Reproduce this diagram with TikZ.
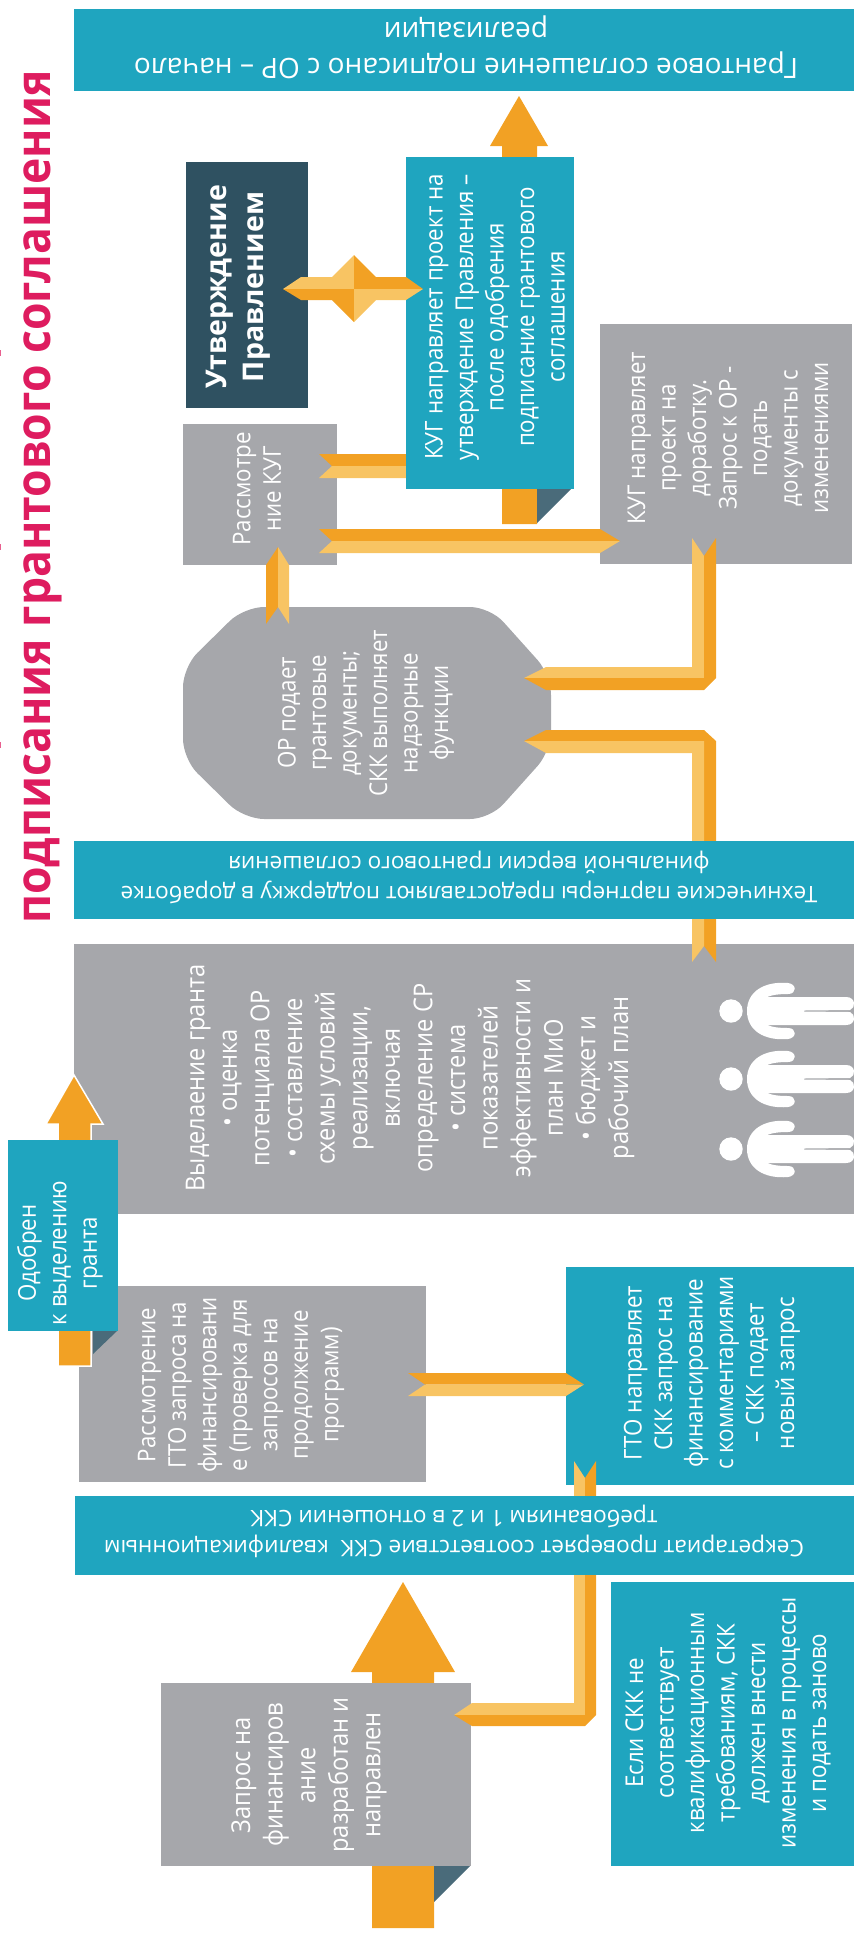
\documentclass[tikz,border=0pt]{standalone}
\usepackage{fontspec}
\setmainfont{Open Sans}
\newfontfamily\vf[FakeStretch=0.91]{Open Sans}
\usetikzlibrary{calc}
\definecolor{tealc}{HTML}{1FA5BF}
\definecolor{grayb}{HTML}{A6A7AB}
\definecolor{darkb}{HTML}{2F5161}
\definecolor{foldc}{HTML}{4A6B7A}
\definecolor{ordark}{HTML}{F2A124}
\definecolor{orlight}{HTML}{F8C463}
\definecolor{pinkt}{HTML}{DE1C5F}
\tikzset{
  boxn/.style={inner sep=0pt,outer sep=0pt,anchor=north west},
  tealbox/.style={boxn,fill=tealc},
  graybox/.style={boxn,fill=grayb},
  darkbox/.style={boxn,fill=darkb},
  vtext/.style={rotate=90,text=white,align=center,inner sep=0pt,font=\vf\fontsize{24.5}{30.5}\selectfont},
  vbig/.style={rotate=90,text=white,align=center,inner sep=0pt,font=\vf\fontsize{26}{32.6}\selectfont},
  utext/.style={rotate=180,text=white,align=center,inner sep=0pt,font=\fontsize{28}{36}\selectfont},
  usmall/.style={rotate=180,text=white,align=center,inner sep=0pt,font=\fontsize{22.7}{30}\selectfont},
  lt/.style={fill=orlight},
  dk/.style={fill=ordark},
}
\begin{document}
\begin{tikzpicture}[x=1pt,y=-1pt]
\useasboundingbox (0,0) rectangle (854,1933);
\clip (0,0) rectangle (854,1933);
% title
\node[pinkt,rotate=90,inner sep=0pt,font=\fontsize{44.5}{48}\selectfont\bfseries] (title) at (43,497) {\scalebox{1}[1.08]{подписания грантового соглашения}};
\fill[pinkt!70] (0,350) rectangle (1,356);
\fill[pinkt!70] (0,544) rectangle (1,550);
\fill[pinkt!70] (0,742) rectangle (1,748);
% large arrows (under their boxes)
\coordinate (a1t) at (519,96);
\fill[ordark] (a1t) -- (548,146) -- (537,146) -- (537,524) -- (502,524) -- (502,146) -- (490,146) -- cycle;
\fill[foldc] (537,489) -- (571,489) -- (537,523) -- cycle;
\coordinate (a2t) at (403,1582);
\fill[ordark] (a2t) -- (455,1672) -- (434,1672) -- (434,1928) -- (372,1928) -- (372,1672) -- (351,1672) -- cycle;
\fill[foldc] (434,1866) -- (470,1866) -- (434,1902) -- cycle;
% grey boxes
\node[graybox,minimum width=154pt,minimum height=141pt] (kugrev) at (183,424) {};
\node[graybox,minimum width=252pt,minimum height=240pt] (kugback) at (600,324) {};
\fill[grayb,rounded corners=20pt] (244,607) -- (490,607) -- (551,675) -- (551,751) -- (490,819) -- (244,819) -- (183,759) -- (183,667) -- cycle;
\coordinate (octa) at (367,713);
\node[graybox,minimum width=780pt,minimum height=270pt] (grant) at (74,944) {};
\node[graybox,minimum width=347pt,minimum height=196pt] (gto) at (79,1286) {};
\node[tealbox,minimum width=288pt,minimum height=218pt] (gtoback) at (566,1267) {};
\node[graybox,minimum width=310pt,minimum height=183pt] (req) at (161,1683) {};
\node[darkbox,minimum width=122pt,minimum height=246pt] (board) at (186,162) {};
% ribbon KUG send -> KUG review
\coordinate (r1a) at (406,466); \coordinate (r1b) at (332,466);
\fill[dk] (319,454) -- (r1b) -- (r1a) -- (406,454) -- cycle;
\fill[lt] (319,478) -- (r1b) -- (r1a) -- (406,478) -- cycle;
% teal send box over the arrows and ribbon
\node[tealbox,minimum width=168pt,minimum height=332pt] (kugsend) at (406,157) {};
% ribbon KUG review <-> back
\coordinate (r2a) at (332,541); \coordinate (r2b) at (620,541);
\fill[dk] (319,529) -- (r2a) -- (r2b) -- (600,529) -- cycle;
\fill[lt] (319,553) -- (r2a) -- (r2b) -- (600,553) -- cycle;
% ribbon octagon -> KUG review
\coordinate (r3t) at (278,547); \coordinate (r3n) at (278,607);
\fill[dk] (r3t) -- (266,565) -- (266,624) -- (r3n) -- cycle;
\fill[lt] (r3t) -- (289,565) -- (289,624) -- (r3n) -- cycle;
% ribbon back -> octagon
\coordinate (v1n) at (704,556); \coordinate (v1t) at (524,678); \coordinate (v1c) at (704,678);
\fill[lt] (692,538) -- (v1n) -- (v1c) -- (v1t) -- (546,667) -- (692,667) -- cycle;
\fill[dk] (716,538) -- (v1n) -- (v1c) -- (v1t) -- (546,690) -- (704,690) -- (716,678) -- cycle;
% ribbon grant -> octagon
\coordinate (v2n) at (704,946); \coordinate (v2t) at (524,741); \coordinate (v2c) at (704,741);
\fill[dk] (v2t) -- (546,730) -- (704,730) -- (716,741) -- (716,962) -- (v2n) -- (v2c) -- cycle;
\fill[lt] (v2t) -- (546,753) -- (692,753) -- (692,962) -- (v2n) -- (v2c) -- cycle;
% ribbon gto <-> gtoback
\coordinate (r4a) at (425,1384.5); \coordinate (r4b) at (584,1384.5);
\fill[dk] (408,1373) -- (r4a) -- (r4b) -- (566,1373) -- cycle;
\fill[lt] (408,1396) -- (r4a) -- (r4b) -- (566,1396) -- cycle;
% ribbon req -> gtoback
\coordinate (v3n) at (585,1478); \coordinate (v3c) at (585,1715); \coordinate (v3t) at (454,1715);
\fill[lt] (574,1461) -- (v3n) -- (v3c) -- (v3t) -- (472,1703) -- (574,1703) -- cycle;
\fill[dk] (596,1461) -- (v3n) -- (v3c) -- (v3t) -- (472,1726) -- (585,1726) -- (596,1715) -- cycle;
% double star
\coordinate (st) at (354,289);
\fill[lt] (283,289) -- (301,277) -- (332,277) -- (354,255) -- (st) -- cycle;
\fill[dk] (423,289) -- (406,277) -- (376,277) -- (354,255) -- (st) -- cycle;
\fill[dk] (283,289) -- (301,300) -- (332,300) -- (354,322) -- (st) -- cycle;
\fill[lt] (423,289) -- (406,300) -- (376,300) -- (354,322) -- (st) -- cycle;
% small arrow
\coordinate (a3t) at (74,1075);
\filldraw[fill=ordark,draw=white,line width=1.5pt] (a3t) -- (103,1124) -- (91,1124) -- (91,1366) -- (58,1366) -- (58,1124) -- (46,1124) -- cycle;
\fill[foldc] (93,1331) -- (117,1331) -- (93,1354) -- cycle;
\node[tealbox,minimum width=110pt,minimum height=191pt] (appr) at (8,1140) {};
% banners
\node[tealbox,minimum width=780pt,minimum height=82pt] (b1) at (74,9) {};
\node[tealbox,minimum width=780pt,minimum height=78pt] (b2) at (74,841) {};
\node[tealbox,minimum width=779pt,minimum height=79pt] (b3) at (75,1496) {};
\node[tealbox,minimum width=243pt,minimum height=284pt] (ifnot) at (611,1582) {};
% people
\foreach \c in {1011,1079,1149} {
  \fill[white] (731,\c) ellipse [x radius=11.7pt,y radius=11.7pt];
  \fill[white] (788,\c-28) .. controls (765,\c-30) and (747,\c-20) .. (747,\c)
    .. controls (747,\c+20) and (765,\c+30) .. (788,\c+28)
    .. controls (797,\c+27) and (797,\c+17) .. (788,\c+17)
    .. controls (778,\c+17) and (772,\c+16) .. (767,\c+14)
    -- (846,\c+14) .. controls (856,\c+14) and (856,\c+3) .. (850,\c+1)
    -- (804,\c+0.5) -- (804,\c-0.5) -- (850,\c-1)
    .. controls (856,\c-3) and (856,\c-14) .. (846,\c-14)
    -- (767,\c-14) .. controls (772,\c-16) and (778,\c-17) .. (788,\c-17)
    .. controls (797,\c-17) and (797,\c-27) .. (788,\c-28) -- cycle;
}
% texts
\node[utext] (tb1) at (466,47) {Грантовое соглашение подписано с ОР – начало\\реализации};
\node[usmall] (tb2) at (469,877) {Технические партнеры предоставляют поддержку в доработке\\финальной версии грантового соглашения};
\node[usmall] (tb3) at (454,1531) {Секретариат проверяет соответствие СКК \ квалификационным\\требованиям 1 и 2 в отношении СКК};
\node[vtext] (tsend) at (495,317) {КУГ направляет проект на\\утверждение Правления –\\после одобрения\\подписание грантового\\соглашения};
\node[vtext,font=\fontsize{28.5}{37}\selectfont\bfseries] (tboard) at (238,287) {Утверждение\\Правлением};
\node[vtext] (trev) at (257,489) {Рассмотре\\ние КУГ};
\node[vtext] (tback) at (728,438) {КУГ направляет\\проект на\\доработку.\\Запрос к ОР -\\подать\\документы с\\изменениями};
\node[vtext] (tocta) at (366,713) {ОР подает\\грантовые\\документы;\\СКК выполняет\\надзорные\\функции};
\node[vbig] (tgrant) at (410,1078) {Выделаение гранта\\• оценка\\потенциала ОР\\• составление\\схемы условий\\реализации,\\включая\\определение СР\\• система\\показателей\\эффективности и\\план МиО\\• бюджет и\\рабочий план};
\node[vtext] (tappr) at (60,1253) {Одобрен\\к выделению\\гранта};
\node[vtext] (tgto) at (241,1385) {Рассмотрение\\ГТО запроса на\\финансировани\\е (проверка для\\запросов на\\продолжение\\программ)};
\node[vtext] (tgtob) at (712,1373) {ГТО направляет\\СКК запрос на\\финансирование\\с комментариями\\– СКК подает\\новый запрос};
\node[vbig] (treq) at (309,1775) {Запрос на\\финансиров\\ание\\разработан и\\направлен};
\node[vtext] (tif) at (728,1723) {Если СКК не\\соответствует\\квалификационным\\требованиям, СКК\\должен внести\\изменения в процессы\\и подать заново};
\end{tikzpicture}
\end{document}
